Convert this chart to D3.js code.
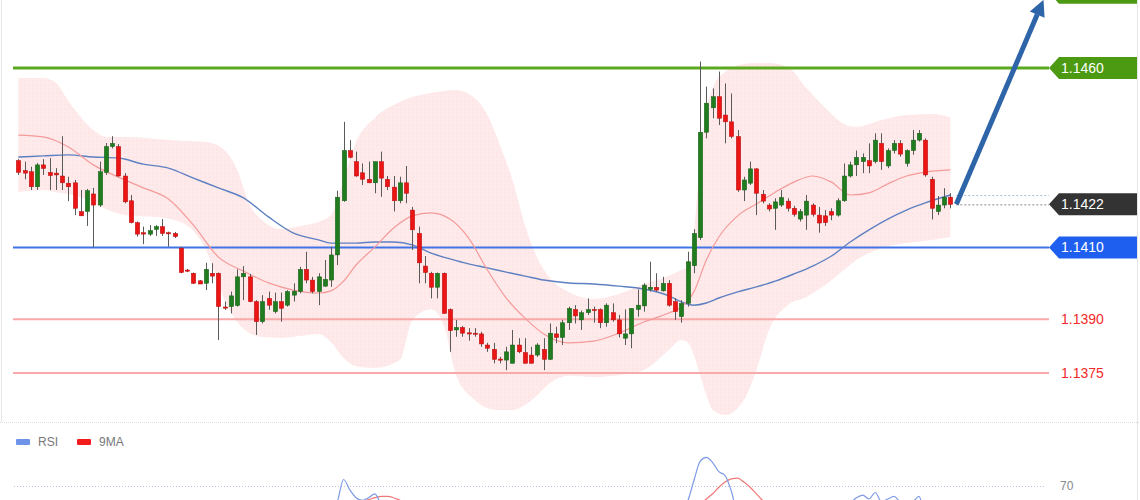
<!DOCTYPE html>
<html>
<head>
<meta charset="utf-8">
<script src="https://cdn.jsdelivr.net/npm/d3@7"></script>
<style>
  html, body { margin: 0; padding: 0; background: #fff; }
  svg { display: block; font-family: "Liberation Sans", Arial, sans-serif; }
</style>
</head>
<body>
<svg id="chart" width="1140" height="500"></svg>
<script>
// EURUSD style candles, one row per bar
const open = [
  1.14342,1.14314,1.14311,1.14269,1.14330,1.14309,1.14307,1.14299,1.14279,1.14280,
  1.14200,1.14200,1.14249,1.14218,1.14309,1.14381,1.14381,1.14299,1.14230,1.14169,
  1.14141,1.14137,1.14150,1.14158,1.14141,1.14139,1.14098,1.14037,1.14028,1.14007,
  1.14000,1.14028,1.14028,1.13934,1.13935,1.13938,1.14018,1.14018,1.13949,1.13893,
  1.13958,1.13921,1.13949,1.13939,1.13967,1.13977,1.14039,1.14009,1.13977,1.13992,
  1.14009,1.14079,1.14230,1.14370,1.14339,1.14308,1.14290,1.14280,1.14339,1.14290,
  1.14268,1.14230,1.14280,1.14204,1.14139,1.14048,1.14028,1.13989,1.14028,1.13927,
  1.13870,1.13877,1.13862,1.13861,1.13859,1.13828,1.13816,1.13789,1.13786,1.13777,
  1.13828,1.13807,1.13800,1.13800,1.13816,1.13788,1.13859,1.13849,1.13890,1.13927,
  1.13898,1.13918,1.13927,1.13927,1.13890,1.13918,1.13898,1.13847,1.13859,1.13927,
  1.13937,1.13983,1.13989,1.13979,1.14000,1.13949,1.13907,1.13944,1.14049,1.14127,
  1.14421,1.14489,1.14520,1.14469,1.14450,1.14409,1.14260,1.14279,1.14319,1.14248,
  1.14218,1.14209,1.14218,1.14229,1.14209,1.14179,1.14190,1.14218,1.14190,1.14188,
  1.14200,1.14190,1.14230,1.14299,1.14330,1.14339,1.14342,1.14339,1.14390,1.14327,
  1.14370,1.14390,1.14334,1.14370,1.14399,1.14399,1.14290,1.14200,1.14218,1.14240
]
const high = [
  1.14346,1.14339,1.14325,1.14335,1.14346,1.14349,1.14321,1.14410,1.14297,1.14288,
  1.14260,1.14263,1.14266,1.14339,1.14391,1.14410,1.14388,1.14307,1.14246,1.14172,
  1.14158,1.14162,1.14162,1.14179,1.14144,1.14143,1.14101,1.14040,1.14030,1.14009,
  1.14057,1.14056,1.14030,1.13949,1.13977,1.14039,1.14048,1.14026,1.13953,1.13967,
  1.13977,1.13974,1.13974,1.13981,1.14000,1.14046,1.14088,1.14018,1.14028,1.14065,
  1.14102,1.14258,1.14450,1.14399,1.14367,1.14334,1.14339,1.14339,1.14367,1.14299,
  1.14299,1.14297,1.14327,1.14213,1.14158,1.14076,1.14032,1.14030,1.14030,1.13930,
  1.13898,1.13881,1.13875,1.13875,1.13865,1.13834,1.13834,1.13795,1.13823,1.13870,
  1.13847,1.13847,1.13823,1.13833,1.13847,1.13888,1.13879,1.13898,1.13935,1.13939,
  1.13924,1.13958,1.13935,1.13930,1.13944,1.13944,1.13912,1.13927,1.13930,1.13983,
  1.14000,1.14060,1.14028,1.14018,1.14009,1.13958,1.13953,1.14088,1.14151,1.14618,
  1.14548,1.14543,1.14590,1.14557,1.14529,1.14427,1.14297,1.14339,1.14320,1.14260,
  1.14223,1.14237,1.14260,1.14237,1.14216,1.14207,1.14246,1.14223,1.14213,1.14204,
  1.14209,1.14237,1.14334,1.14339,1.14370,1.14362,1.14390,1.14418,1.14418,1.14376,
  1.14399,1.14399,1.14373,1.14427,1.14427,1.14404,1.14297,1.14243,1.14265,1.14251
]
const low = [
  1.14302,1.14290,1.14260,1.14260,1.14302,1.14260,1.14260,1.14260,1.14229,1.14190,
  1.14188,1.14160,1.14100,1.14213,1.14302,1.14376,1.14297,1.14223,1.14167,1.14130,
  1.14109,1.14132,1.14132,1.14132,1.14102,1.14126,1.14028,1.14031,1.13998,1.13998,
  1.13981,1.14000,1.13842,1.13926,1.13916,1.13935,1.13953,1.13947,1.13856,1.13888,
  1.13926,1.13916,1.13893,1.13935,1.13949,1.13972,1.14000,1.13972,1.13939,1.13990,
  1.13990,1.14051,1.14227,1.14348,1.14297,1.14274,1.14279,1.14251,1.14241,1.14260,
  1.14200,1.14223,1.14223,1.14093,1.14000,1.14000,1.13958,1.13958,1.13916,1.13809,
  1.13851,1.13851,1.13840,1.13851,1.13823,1.13809,1.13777,1.13777,1.13758,1.13777,
  1.13805,1.13777,1.13777,1.13795,1.13758,1.13786,1.13833,1.13828,1.13870,1.13888,
  1.13870,1.13912,1.13890,1.13875,1.13879,1.13893,1.13849,1.13828,1.13819,1.13907,
  1.13921,1.13977,1.13977,1.13977,1.13935,1.13898,1.13890,1.13935,1.14028,1.14121,
  1.14404,1.14460,1.14441,1.14390,1.14404,1.14255,1.14229,1.14274,1.14190,1.14223,
  1.14200,1.14149,1.14213,1.14200,1.14186,1.14172,1.14149,1.14186,1.14141,1.14160,
  1.14176,1.14186,1.14227,1.14295,1.14299,1.14307,1.14307,1.14334,1.14316,1.14321,
  1.14362,1.14353,1.14325,1.14358,1.14395,1.14297,1.14178,1.14190,1.14209,1.14209
]
const close = [
  1.14309,1.14307,1.14269,1.14330,1.14320,1.14300,1.14302,1.14280,1.14269,1.14209,
  1.14188,1.14258,1.14218,1.14311,1.14381,1.14390,1.14299,1.14227,1.14169,1.14137,
  1.14137,1.14147,1.14158,1.14139,1.14139,1.14130,1.14030,1.14034,1.14000,1.13998,
  1.14039,1.14020,1.13935,1.13931,1.13965,1.14018,1.14028,1.13949,1.13893,1.13949,
  1.13939,1.13949,1.13930,1.13977,1.13978,1.14039,1.14009,1.13977,1.14018,1.14011,
  1.14079,1.14240,1.14370,1.14351,1.14299,1.14290,1.14280,1.14339,1.14293,1.14269,
  1.14230,1.14280,1.14251,1.14149,1.14057,1.14030,1.13989,1.14028,1.13916,1.13868,
  1.13877,1.13861,1.13859,1.13860,1.13831,1.13819,1.13788,1.13786,1.13809,1.13828,
  1.13809,1.13777,1.13777,1.13828,1.13788,1.13861,1.13849,1.13890,1.13930,1.13909,
  1.13918,1.13927,1.13926,1.13890,1.13939,1.13898,1.13859,1.13859,1.13930,1.13939,
  1.13995,1.13989,1.13981,1.14000,1.13939,1.13921,1.13944,1.14060,1.14139,1.14421,
  1.14502,1.14520,1.14460,1.14450,1.14409,1.14260,1.14288,1.14319,1.14251,1.14229,
  1.14207,1.14227,1.14239,1.14209,1.14192,1.14200,1.14229,1.14192,1.14168,1.14169,
  1.14190,1.14230,1.14299,1.14330,1.14351,1.14351,1.14327,1.14399,1.14339,1.14370,
  1.14390,1.14360,1.14370,1.14399,1.14418,1.14302,1.14209,1.14218,1.14240,1.14220
]

const bandIdx = [0,4,6,8,10,12,14,18,22,26,30,33,35,37,39,42,45,48,50,52,54,57,61,63,66,68,70,73,75,77,79,81,83,85,88,92,96,100,104,106,107,108,109,110,111,113,116,118,120,123,126,129,132,134,138,142,146,149]
const bandUpper = [
  1.14572,1.14572,1.14558,1.14508,1.14463,1.14427,1.14408,1.14408,1.14402,1.14397,
  1.14394,1.14371,1.14316,1.14218,1.14176,1.14151,1.14160,1.14171,1.14190,1.14288,
  1.14394,1.14461,1.14505,1.14519,1.14530,1.14536,1.14539,1.14516,1.14469,1.14385,
  1.14288,1.14162,1.14070,1.14015,1.13976,1.13956,1.13970,1.13998,1.14020,1.14037,
  1.14043,1.14135,1.14344,1.14483,1.14544,1.14589,1.14611,1.14614,1.14614,1.14603,
  1.14544,1.14489,1.14444,1.14436,1.14455,1.14469,1.14472,1.14463
]
const bandLower = [
  1.14254,1.14260,1.14254,1.14249,1.14240,1.14224,1.14207,1.14188,1.14185,1.14171,
  1.14093,1.13953,1.13892,1.13861,1.13850,1.13848,1.13853,1.13859,1.13836,1.13792,
  1.13769,1.13764,1.13786,1.13898,1.13928,1.13884,1.13744,1.13675,1.13652,1.13647,
  1.13647,1.13661,1.13689,1.13722,1.13742,1.13739,1.13744,1.13758,1.13814,1.13842,
  1.13836,1.13800,1.13744,1.13689,1.13647,1.13633,1.13675,1.13758,1.13870,1.13939,
  1.13962,1.13995,1.14037,1.14065,1.14098,1.14112,1.14121,1.14129
]

// moving averages (red = band middle, blue = slow one)
const maIdx = [0,4,8,12,16,20,24,28,32,36,40,44,48,50,52,54,57,60,63,66,69,72,75,78,81,84,88,92,96,100,104,106,108,110,112,115,118,121,124,127,130,133,136,139,142,145,149]
const maFast = [
  1.14413,1.14408,1.14380,1.14330,1.14296,1.14266,1.14235,1.14162,1.14073,1.14034,
  1.14001,1.13981,1.13973,1.13979,1.14006,1.14051,1.14101,1.14154,1.14188,1.14196,
  1.14179,1.14126,1.14037,1.13959,1.13903,1.13859,1.13834,1.13839,1.13861,1.13892,
  1.13917,1.13934,1.13976,1.14065,1.14129,1.14188,1.14221,1.14254,1.14282,1.14299,
  1.14282,1.14246,1.14252,1.14277,1.14299,1.14310,1.14316
]
const maSlow = [
  1.14352,1.14355,1.14358,1.14352,1.14349,1.14332,1.14321,1.14293,1.14266,1.14238,
  1.14185,1.14140,1.14121,1.14112,1.14112,1.14112,1.14115,1.14115,1.14107,1.14084,
  1.14068,1.14054,1.14043,1.14031,1.14020,1.14009,1.14001,1.13998,1.13992,1.13984,
  1.13965,1.13948,1.13939,1.13945,1.13959,1.13976,1.13990,1.14006,1.14026,1.14048,
  1.14076,1.14115,1.14149,1.14179,1.14204,1.14224,1.14246
]

// support / resistance levels
const levels = [1.1460, 1.1410, 1.1390, 1.1375]
const levelKinds = ["green", "blue", "red", "red"]
const lastPrice = 1.1422
const target = 1.1479
const targetTag = 1.1481

// RSI panel (only the top of it is inside the picture)
const rsi = [
  48,46,42,47,46,44,43,41,38,33, 32,40,38,50,58,57,50,42,36,33,
  32,35,36,34,33,32,26,26,24,24, 32,31,27,27,33,42,43,37,32,40,
  39,42,40,45,46,52,48,45,49,50, 52,58,75,67,61,59,61,64,56,53,
  48,52,49,40,33,31,28,30,25,20, 22,21,20,20,18,17,15,16,22,27,
  25,23,22,27,25,34,33,38,44,43, 45,46,46,42,47,44,40,40,48,50,
  55,55,54,56,48,45,48,58,74,89, 92,88,81,78,66,50,51,54,46,43,
  40,42,44,42,39,41,46,42,38,39, 40,47,53,57,61,63,60,65,58,60,
  62,58,57,58,62,45,35,38,42,40
]
const rsiMa = [
  45,45,45,44,44,44,44,44,43,42, 41,40,40,41,43,45,45,45,45,44,
  42,40,38,37,36,35,33,31,30,29, 29,29,28,28,28,29,31,32,32,33,
  34,36,37,38,40,42,44,45,45,46, 47,49,52,55,57,58,59.5,61,62,62,
  61,59,57,54,51,48,44,40,37,33, 30,27,25,23,22,21,20,19,19,19,
  20,21,21,22,23,24,26,28,30,33, 36,38,40,41,43,44,44,44,44,45,
  46,47,48,49,50,50,50,51,53,56, 60,64,69,73,75.5,76,73,69,64,59,
  56,53,50,47,44,43,42,42,42,41, 41,42,44,46,49,51,53,54,55,55,
  56,56,56,56,55,55,54,53,52,49
]

let svg = d3.select("#chart")
let x = d3.scaleLinear().domain([0, 149]).range([18.3, 950.3])
let y = d3.scaleLinear().domain([1.1375, 1.1460]).range([373, 68])
let yRsi = d3.scaleLinear().domain([70, 100]).range([486, 447])
let bodyW = 4.4

svg.append("rect").attr("width", 1140).attr("height", 500).attr("fill", "#fff")

// faint dotted pink texture for the band
let defs = svg.append("defs")
let pat = defs.append("pattern")
  .attr("id", "dots")
  .attr("width", 4).attr("height", 4)
  .attr("patternUnits", "userSpaceOnUse")
pat.append("rect").attr("width", 4).attr("height", 4).attr("fill", "#feeaea")
pat.append("circle").attr("cx", 1).attr("cy", 1).attr("r", 0.55).attr("fill", "#fad6d6")

// panel frame
svg.append("line").attr("x1", 1.5).attr("x2", 1.5).attr("y1", 0).attr("y2", 422)
  .attr("stroke", "#e6e6e6")
svg.append("line").attr("x1", 1137.5).attr("x2", 1137.5).attr("y1", 0).attr("y2", 500)
  .attr("stroke", "#e6e6e6")
svg.append("line").attr("x1", 0).attr("x2", 1140).attr("y1", 422.5).attr("y2", 422.5)
  .attr("stroke", "#dcdcdc").attr("stroke-dasharray", "1,1")

// Bollinger band
let band = d3.area()
  .x((d, k) => x(bandIdx[k]))
  .y0((d, k) => y(bandLower[k]))
  .y1((d, k) => y(bandUpper[k]))
  .curve(d3.curveMonotoneX)
svg.append("path")
  .datum(bandIdx)
  .attr("d", band)
  .attr("fill", "url(#dots)")

// horizontal levels
let levelColour = { green: "#5aa91f", blue: "#3f73e6", red: "#f8a9a9" }
let levelWidth = { green: 3, blue: 2, red: 2 }
svg.selectAll("line.level")
  .data(levels)
  .join("line")
  .attr("class", "level")
  .attr("x1", 13).attr("x2", 1049)
  .attr("y1", d => y(d)).attr("y2", d => y(d))
  .attr("stroke", (d, k) => levelColour[levelKinds[k]])
  .attr("stroke-width", (d, k) => levelWidth[levelKinds[k]])

// moving averages
let maLine = vals => d3.line()
  .x((d, k) => x(maIdx[k]))
  .y((d, k) => y(vals[k]))
  .curve(d3.curveMonotoneX)
svg.append("path").datum(maIdx).attr("d", maLine(maSlow))
  .attr("fill", "none").attr("stroke", "#5d80c2").attr("stroke-width", 1.4)
svg.append("path").datum(maIdx).attr("d", maLine(maFast))
  .attr("fill", "none").attr("stroke", "#f59a9a").attr("stroke-width", 1.2)

// candles
let bars = d3.range(open.length)
let g = svg.append("g").attr("class", "candles")
g.selectAll("line.wick")
  .data(bars)
  .join("line")
  .attr("class", "wick")
  .attr("x1", i => Math.round(x(i)) + 0.5).attr("x2", i => Math.round(x(i)) + 0.5)
  .attr("y1", i => y(high[i])).attr("y2", i => y(low[i]))
  .attr("stroke", "#5a5a5a").attr("stroke-width", 1)
g.selectAll("rect.body")
  .data(bars)
  .join("rect")
  .attr("class", "body")
  .attr("x", i => Math.round(x(i)) + 0.5 - bodyW / 2)
  .attr("width", bodyW)
  .attr("y", i => y(Math.max(open[i], close[i])))
  .attr("height", i => Math.max(1.2, Math.abs(y(open[i]) - y(close[i]))))
  .attr("fill", i => close[i] >= open[i] ? "#1f7d1f" : "#ec1515")
  .attr("stroke", i => close[i] >= open[i] ? "#1a5e1a" : "#b51010")
  .attr("stroke-width", 0.5)

// dotted guides from the last bar to the tags
let lastX = x(149) + 6
svg.append("line")
  .attr("x1", lastX).attr("x2", 1049)
  .attr("y1", y(maSlow[maSlow.length - 1]) + 0.5).attr("y2", y(maSlow[maSlow.length - 1]) + 0.5)
  .attr("stroke", "#a9bde6").attr("stroke-dasharray", "2,2")
svg.append("line")
  .attr("x1", lastX).attr("x2", 1049)
  .attr("y1", y(lastPrice) + 0.5).attr("y2", y(lastPrice) + 0.5)
  .attr("stroke", "#888").attr("stroke-dasharray", "2,2")

// price tags on the right
function tag(price, fill, withText) {
  let cy = y(price)
  let h = 11
  svg.append("path")
    .attr("d", `M1049,${cy} L1059,${cy - h} L1137,${cy - h} L1137,${cy + h} L1059,${cy + h} Z`)
    .attr("fill", fill)
  if (!withText) return
  svg.append("text")
    .attr("x", 1061).attr("y", cy)
    .attr("dy", "0.36em")
    .attr("fill", "#fff")
    .style("font-size", "14px")
    .text(price.toFixed(4))
}
// target tag sits mostly above the picture, only its foot shows
tag(targetTag, "#4c9a12", false)
tag(levels[0], "#4c9a12", true)
tag(lastPrice, "#333333", true)
tag(levels[1], "#1f5ff0", true)
levels.slice(2).forEach(p => {
  svg.append("text")
    .attr("x", 1061).attr("y", y(p))
    .attr("dy", "0.36em")
    .attr("fill", "#f22a2a")
    .style("font-size", "14px")
    .text(p.toFixed(4))
})

// forecast arrow
let ax0 = x(149) + 6, ay0 = y(lastPrice)
let ax1 = x(163.9), ay1 = y(target)
let ang = Math.atan2(ay1 - ay0, ax1 - ax0)
let headLen = 16, headW = 8
let bx = ax1 - headLen * Math.cos(ang), by = ay1 - headLen * Math.sin(ang)
svg.append("line")
  .attr("x1", ax0).attr("y1", ay0).attr("x2", bx).attr("y2", by)
  .attr("stroke", "#2e64a8").attr("stroke-width", 5)
svg.append("path")
  .attr("d", `M${ax1},${ay1} L${bx + headW * Math.sin(ang)},${by - headW * Math.cos(ang)} L${bx - headW * Math.sin(ang)},${by + headW * Math.cos(ang)} Z`)
  .attr("fill", "#2e64a8")

// RSI legend
let legend = svg.append("g").attr("transform", "translate(16, 442)")
let entries = [["RSI", "#6f93e8"], ["9MA", "#f21c1c"]]
entries.forEach(([name, col], k) => {
  legend.append("rect").attr("x", k * 61).attr("y", -3).attr("width", 14).attr("height", 6)
    .attr("rx", 1).attr("fill", col)
  legend.append("text").attr("x", k * 61 + 22).attr("y", 0).attr("dy", "0.36em")
    .attr("fill", "#777").style("font-size", "12px").text(name)
})

// 70 level and lines
svg.append("line")
  .attr("x1", 14).attr("x2", 1046)
  .attr("y1", yRsi(70) + 0.5).attr("y2", yRsi(70) + 0.5)
  .attr("stroke", "#b9c3dd").attr("stroke-dasharray", "1,2")
svg.append("text")
  .attr("x", 1060).attr("y", yRsi(70)).attr("dy", "0.36em")
  .attr("fill", "#888").style("font-size", "12px").text("70")

let rsiLine = vals => d3.line()
  .x((d, i) => x(i))
  .y((d, i) => yRsi(vals[i]))
  .curve(d3.curveMonotoneX)
svg.append("path").datum(rsiMa).attr("d", rsiLine(rsiMa))
  .attr("fill", "none").attr("stroke", "#f27777").attr("stroke-width", 1.2)
svg.append("path").datum(rsi).attr("d", rsiLine(rsi))
  .attr("fill", "none").attr("stroke", "#7d9be6").attr("stroke-width", 1.2)
</script>
</body>
</html>
